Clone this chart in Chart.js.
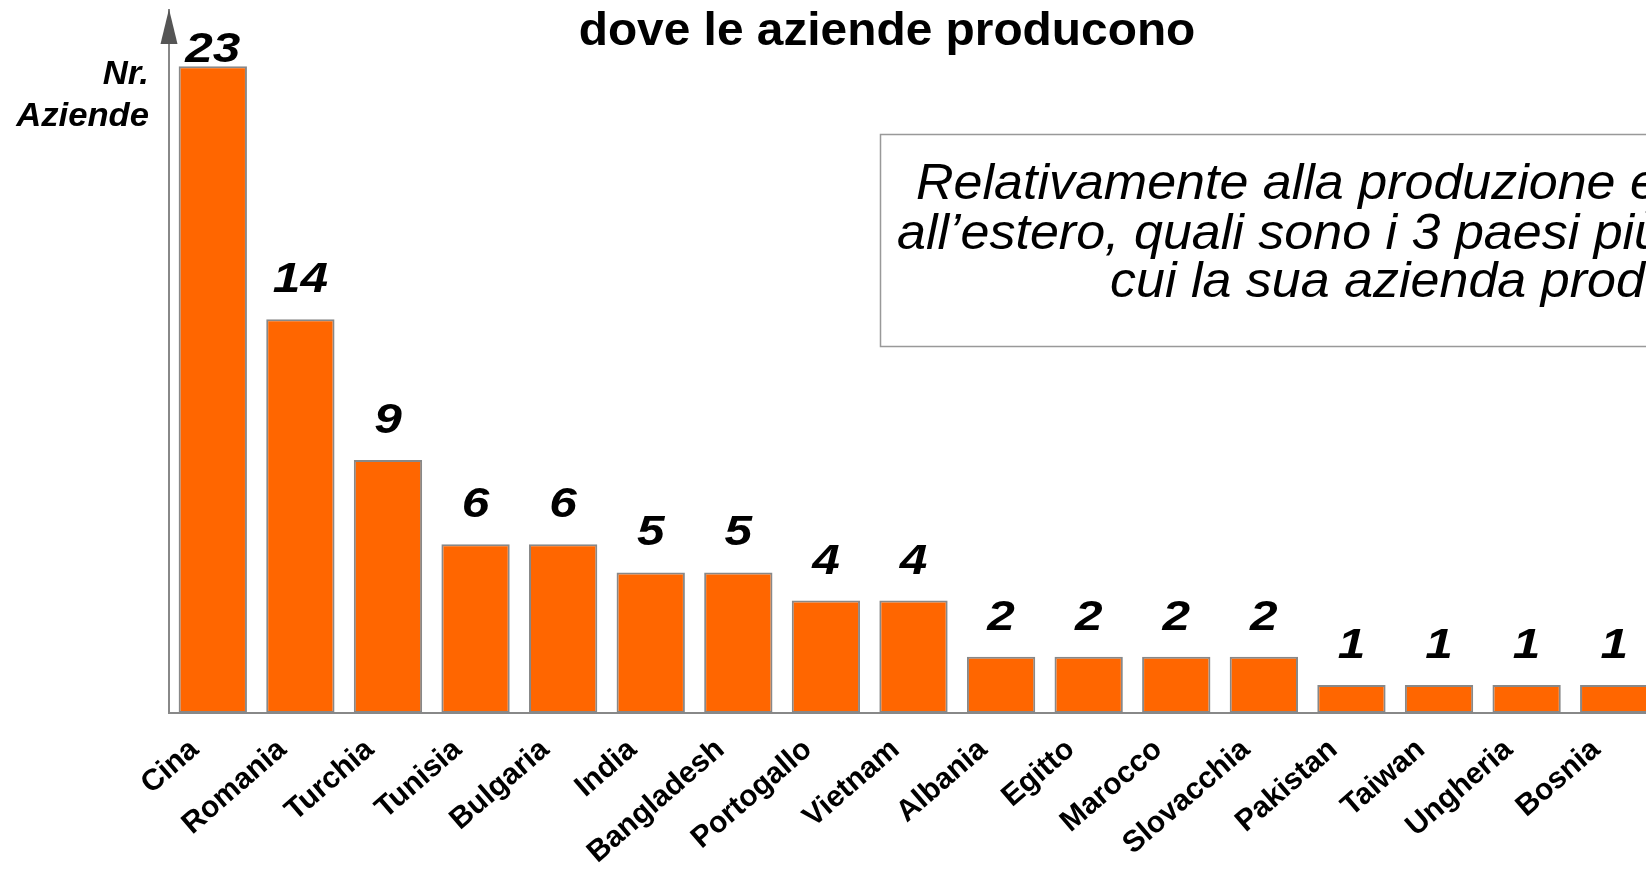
<!DOCTYPE html>
<html>
<head>
<meta charset="utf-8">
<script src="https://cdn.jsdelivr.net/npm/chart.js@4"></script>
<style>
  html, body { margin: 0; padding: 0; overflow: hidden; background: #fff; }
  #wrap { width: 1700px; height: 870px; }
</style>
</head>
<body>
<div id="wrap"><canvas id="chart" width="1700" height="870"></canvas></div>
<script>
// dati
const paesi = ['Cina', 'Romania', 'Turchia', 'Tunisia', 'Bulgaria', 'India', 'Bangladesh',
  'Portogallo', 'Vietnam', 'Albania', 'Egitto', 'Marocco', 'Slovacchia', 'Pakistan',
  'Taiwan', 'Ungheria', 'Bosnia'];
const aziende = [23, 14, 9, 6, 6, 5, 5, 4, 4, 2, 2, 2, 2, 1, 1, 1, 1];
const yMax = 25;

const titolo = 'dove le aziende producono';
const titoloAsse = ['Nr.', 'Aziende'];
const domanda = [
  'Relativamente alla produzione effettuata',
  'all’estero, quali sono i 3 paesi più importanti in',
  'cui la sua azienda produce?'
];

const FONT = '"Liberation Sans", Arial, sans-serif';

// testo un po' allargato in orizzontale, come nell'originale
function testo(ctx, str, x, y, sx, align) {
  ctx.save();
  ctx.translate(x, y);
  ctx.scale(sx, 1);
  ctx.textAlign = align;
  ctx.fillText(str, 0, 0);
  ctx.restore();
}

// freccia, etichette, titolo e riquadro della domanda
const decorazioni = {
  id: 'decorazioni',
  afterDatasetsDraw(chart) {
    const { ctx, chartArea } = chart;
    ctx.save();
    ctx.textBaseline = 'alphabetic';

    // freccia sull'asse y
    ctx.fillStyle = '#555';
    ctx.beginPath();
    ctx.moveTo(chartArea.left, 9);
    ctx.lineTo(chartArea.left - 8.5, 44);
    ctx.lineTo(chartArea.left + 8.5, 44);
    ctx.closePath();
    ctx.fill();

    // valori sopra le barre
    ctx.fillStyle = '#000';
    ctx.font = 'italic bold 42px ' + FONT;
    const meta = chart.getDatasetMeta(0);
    meta.data.forEach((bar, i) => {
      const y = Math.max(bar.y - 27, chartArea.top + 52);
      testo(ctx, String(aziende[i]), bar.x, y, 1.18, 'center');
    });

    // titolo asse y
    ctx.font = 'italic bold 33px ' + FONT;
    testo(ctx, titoloAsse[0], 149, 84, 1.05, 'right');
    testo(ctx, titoloAsse[1], 149, 126, 1.05, 'right');

    // titolo
    ctx.font = 'bold 46px ' + FONT;
    testo(ctx, titolo, 887, 45, 1.04, 'center');

    // riquadro domanda
    ctx.strokeStyle = '#999';
    ctx.lineWidth = 1.5;
    ctx.fillStyle = '#fff';
    ctx.fillRect(880.5, 134.5, 1000, 212);
    ctx.strokeRect(880.5, 134.5, 1000, 212);
    ctx.fillStyle = '#000';
    ctx.font = 'italic 50px ' + FONT;
    testo(ctx, domanda[0], 916, 199, 1.04, 'left');
    testo(ctx, domanda[1], 897, 249, 1.04, 'left');
    testo(ctx, domanda[2], 1110, 297, 1.04, 'left');

    ctx.restore();
  }
};

const ctx = document.getElementById('chart');

new Chart(ctx, {
  type: 'bar',
  data: {
    labels: paesi,
    datasets: [{
      data: aziende,
      backgroundColor: '#FF6600',
      borderColor: '#888888',
      borderWidth: 2,
      borderSkipped: false,
      barPercentage: 0.78,
      categoryPercentage: 1
    }]
  },
  options: {
    responsive: false,
    animation: false,
    layout: { padding: { left: 169, top: 10, right: 42, bottom: 0 } },
    plugins: {
      legend: { display: false },
      tooltip: { enabled: false }
    },
    scales: {
      x: {
        grid: { display: false, drawTicks: false },
        border: { display: true, color: '#888', width: 2 },
        ticks: {
          color: '#000',
          font: { family: FONT, size: 30, weight: 'bold' },
          minRotation: 41,
          maxRotation: 41,
          autoSkip: false,
          padding: 19,
          labelOffset: -18
        },
        afterFit(scale) { scale.height = 157; }
      },
      y: {
        min: 0,
        max: yMax,
        grid: { display: false, drawTicks: false },
        border: { display: true, color: '#888', width: 2 },
        ticks: { display: false },
        afterFit(scale) { scale.width = 0; }
      }
    }
  },
  plugins: [decorazioni]
});
</script>
</body>
</html>
